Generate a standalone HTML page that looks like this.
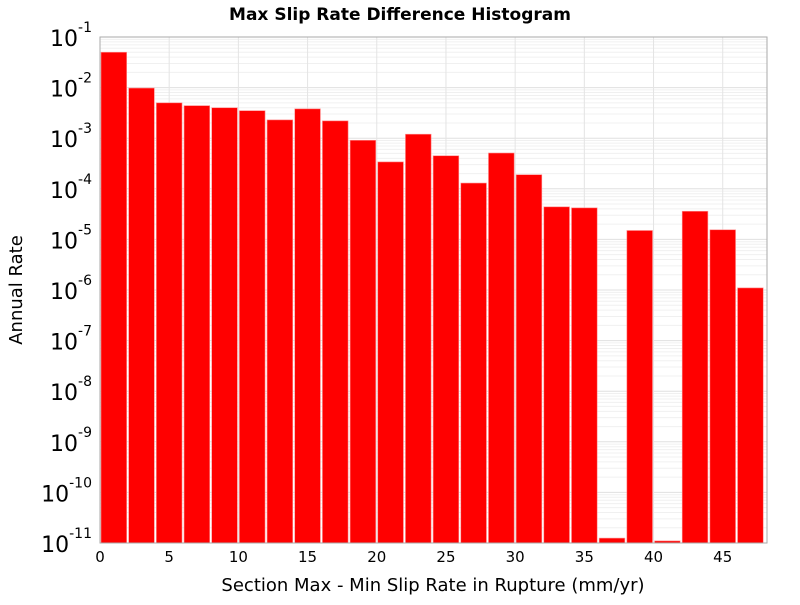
<!DOCTYPE html>
<html><head><meta charset="utf-8"><style>
body{margin:0;background:#fff;width:800px;height:600px;overflow:hidden}
svg text{font-family:"DejaVu Sans","Liberation Sans",sans-serif}
</style></head><body>
<svg id="c" width="800" height="600">
<text x="400" y="20" text-anchor="middle" font-size="17" font-weight="bold">Max Slip Rate Difference Histogram</text>
<text x="433" y="591" text-anchor="middle" font-size="18">Section Max - Min Slip Rate in Rupture (mm/yr)</text>
<text transform="translate(22,290) rotate(-90)" text-anchor="middle" font-size="18">Annual Rate</text>
<g id="grid"></g><g id="bars"></g><g id="axes"></g>
</svg>
<script>
const binStarts=[0,2,4,6,8,10,12,14,16,18,20,22,24,26,28,30,32,34,36,38,40,42,44,46];
const rates=[0.05,0.0098,0.005,0.0044,0.004,0.0035,0.0023,0.0038,0.0022,9.1e-4,3.4e-4,1.2e-3,4.5e-4,1.3e-4,5.1e-4,1.9e-4,4.4e-5,4.2e-5,1.25e-11,1.5e-5,1.1e-11,3.6e-5,1.55e-5,1.1e-6];
const xTicks=[0,5,10,15,20,25,30,35,40,45];
const yExps=[-11,-10,-9,-8,-7,-6,-5,-4,-3,-2,-1];
const binW=2;
const L=100,R=767,T=37,B=543,xMax=48.2;
const NS='http://www.w3.org/2000/svg';
const sx=v=>L+v/xMax*(R-L);
const sy=v=>T+(-1-Math.log10(v))/10*(B-T);
function mk(tag,attrs,parent){const e=document.createElementNS(NS,tag);for(const k in attrs)e.setAttribute(k,attrs[k]);parent.appendChild(e);return e;}
const grid=document.getElementById('grid'),bars=document.getElementById('bars'),axes=document.getElementById('axes');
mk('rect',{x:L,y:T,width:R-L,height:B-T,fill:'#fff'},grid);
for(let e=-11;e<-1;e++){for(let m=2;m<10;m++){const y=sy(m*Math.pow(10,e));const ln=mk('line',{x1:L,x2:R,y1:y,y2:y,stroke:'#f0f0f0','stroke-width':1},grid);

}}
yExps.forEach(e=>{const y=sy(Math.pow(10,e));const ln=mk('line',{x1:L,x2:R,y1:y,y2:y,stroke:'#e0e0e0'},grid);


const t=mk('text',{x:L-8,y:y+9,'text-anchor':'end','font-size':22},axes);


t.textContent='10';const s=mk('tspan',{dy:-14,'font-size':14},t);s.textContent=String(e);});
xTicks.forEach(v=>{const x=sx(v);const ln=mk('line',{x1:x,x2:x,y1:T,y2:B,stroke:'#e4e4e4'},grid);


const t=mk('text',{x:x,y:B+19,'text-anchor':'middle','font-size':15},axes);


t.textContent=v;});
binStarts.forEach((b,i)=>{const x0=sx(b)+1,x1=sx(b+binW)-1,y=sy(rates[i]);
const r=mk('rect',{x:x0,y:y,width:x1-x0,height:B-y,fill:'#ff0000',stroke:'#ff9090','stroke-width':0.6},bars);

});
const fr=mk('rect',{x:L,y:T,width:R-L,height:B-T,fill:'none',stroke:'#aaa'},axes);


</script>
</body></html>
